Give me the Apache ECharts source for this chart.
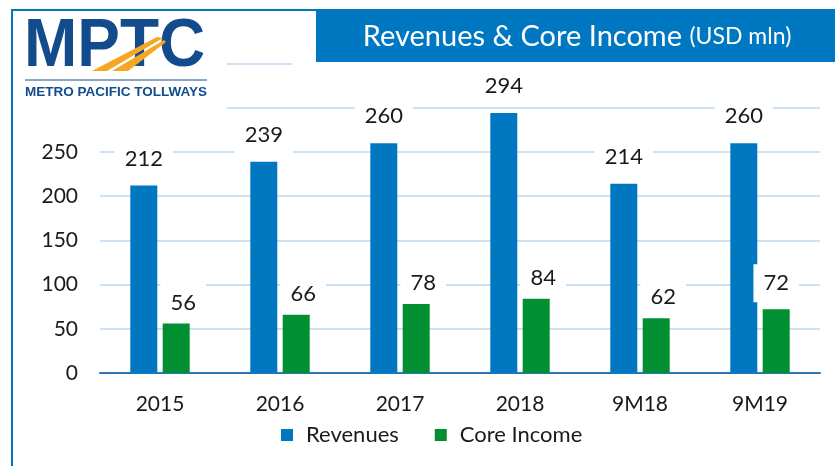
<!DOCTYPE html>
<html>
<head>
<meta charset="utf-8">
<script src="https://cdn.jsdelivr.net/npm/echarts@6/dist/echarts.min.js"></script>
<style>html,body{margin:0;padding:0;background:#fff;}#c{width:835px;height:466px;}</style>
</head>
<body>
<div id="c"></div>
<script>
var categories = ['2015', '2016', '2017', '2018', '9M18', '9M19'];
var revenues = [212, 239, 260, 294, 214, 260];
var coreIncome = [56, 66, 78, 84, 62, 72];
var yTicks = [0, 50, 100, 150, 200, 250];

var FONT = 'Lato';
var chart = echarts.init(document.getElementById('c'));
var labelBase = {
  show: true, position: 'top', color: '#1a1a1a', fontFamily: FONT, fontSize: 22,
  backgroundColor: '#fff', padding: [9, 10], lineHeight: 20
};
chart.setOption({
  animation: false,
  backgroundColor: '#fff',
  grid: { left: 100, right: 15, top: 63.6, bottom: 93, containLabel: false, outerBoundsMode: 'none' },
  xAxis: {
    type: 'category', data: categories,
    axisLine: { show: true, lineStyle: { color: '#2E75B6', width: 2 } },
    axisTick: { show: false },
    axisLabel: { color: '#1a1a1a', fontFamily: FONT, fontSize: 21, margin: 21 }
  },
  yAxis: {
    type: 'value', min: 0, max: 350, interval: 50,
    axisLine: { show: false }, axisTick: { show: false },
    splitLine: { lineStyle: { color: '#CFE2F3', width: 2 } },
    axisLabel: {
      color: '#1a1a1a', fontFamily: FONT, fontSize: 21, margin: 22,
      formatter: function (v) { return yTicks.indexOf(v) >= 0 ? String(v) : ''; }
    }
  },
  legend: {
    data: ['Revenues', 'Core Income'],
    left: 276, top: 419, icon: 'rect', itemWidth: 12, itemHeight: 12, itemGap: 36,
    textStyle: { color: '#1a1a1a', fontFamily: FONT, fontSize: 22, padding: [0, 0, 0, 8] }
  },
  series: [
    {
      name: 'Revenues', type: 'bar', data: revenues, barWidth: 27, barGap: '20%',
      itemStyle: { color: '#0078C1' },
      label: Object.assign({}, labelBase, { distance: 8 })
    },
    {
      name: 'Core Income', type: 'bar',
      data: coreIncome.map(function (v, i) { return i === 5 ? { value: v, label: { distance: 7, offset: [0, 0] } } : v; }),
      barWidth: 27,
      itemStyle: { color: '#009031' },
      label: Object.assign({}, labelBase, { distance: 2, offset: [7, 0] })
    }
  ],
  graphic: {
    elements: [
      { type: 'rect', z: 100, shape: { x: 14, y: 11, width: 213, height: 99 }, style: { fill: '#fff' } },
      { type: 'rect', z: 100, shape: { x: 292, y: 54, width: 543, height: 13 }, style: { fill: '#fff' } },
      { type: 'rect', z: 101, shape: { x: 316, y: 9, width: 519, height: 53 }, style: { fill: '#0078C1' } },
      { type: 'text', z: 102, x: 577, y: 37, style: {
          text: '{a|Revenues & Core Income }{b|(USD mln)}', fill: '#fff', align: 'center', verticalAlign: 'middle',
          rich: { a: { fontFamily: FONT, fontSize: 29, fill: '#fff' }, b: { fontFamily: FONT, fontSize: 23, fill: '#fff' } }
      } },
      { type: 'line', z: 103, shape: { x1: 12, y1: 10, x2: 316, y2: 10 }, style: { stroke: '#0078C1', lineWidth: 2 } },
      { type: 'line', z: 103, shape: { x1: 12, y1: 9, x2: 12, y2: 466 }, style: { stroke: '#0078C1', lineWidth: 2 } },
      { type: 'text', z: 104, x: 24, y: 47, scaleX: 0.94, style: {
          text: 'MPTC', fontFamily: 'Liberation Sans', fontWeight: 'bold', fontSize: 68, fill: '#124C8C',
          align: 'left', verticalAlign: 'middle'
      } },
      { type: 'polygon', z: 105, shape: { points: [[92, 71], [107, 71], [163, 38], [157, 37]] }, style: { fill: '#F5A623' } },
      { type: 'polygon', z: 105, shape: { points: [[112, 71], [128, 71], [166, 42], [164, 40]] }, style: { fill: '#F5A623' } },
      { type: 'line', z: 104, shape: { x1: 25, y1: 80, x2: 207, y2: 80 }, style: { stroke: '#124C8C', lineWidth: 1 } },
      { type: 'text', z: 104, x: 25, y: 92, style: {
          text: 'METRO PACIFIC TOLLWAYS', fontFamily: 'Liberation Sans', fontWeight: 'bold', fontSize: 13.5, fill: '#124C8C',
          align: 'left', verticalAlign: 'middle'
      } }
    ]
  }
});
</script>
</body>
</html>
